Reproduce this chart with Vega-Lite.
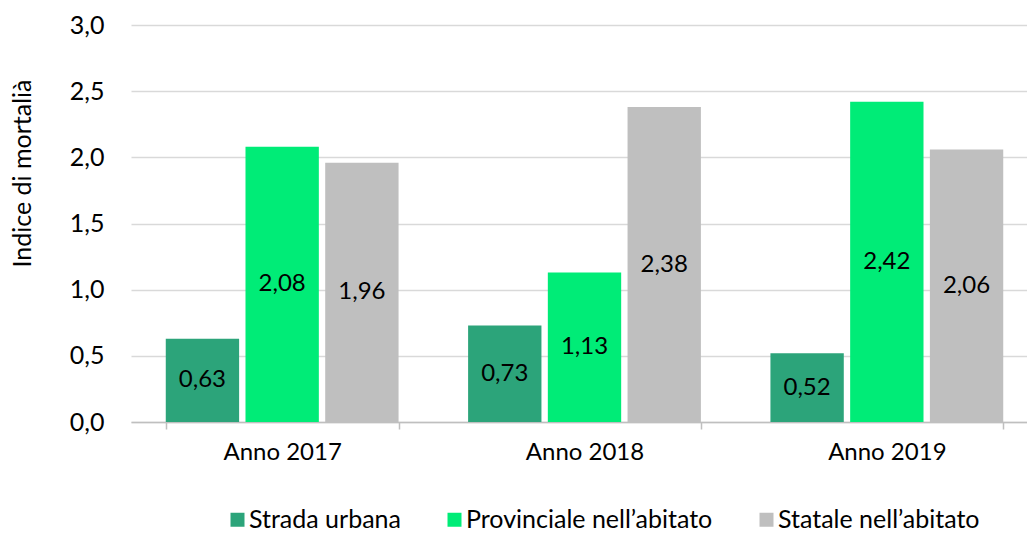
{
  "$schema": "https://vega.github.io/schema/vega-lite/v6.json",
  "width": 896,
  "height": 397,
  "autosize": {"type": "none"},
  "padding": {"left": 131, "top": 25, "right": 0, "bottom": 111},
  "config": {
    "locale": {"number": {"decimal": ",", "thousands": ".", "grouping": [3], "currency": ["", " €"]}},
    "view": {"stroke": null},
    "font": "Lato"
  },
  "data": {
    "values": [
      {"anno": "Anno 2017", "serie": "Strada urbana", "v": 0.63},
      {"anno": "Anno 2017", "serie": "Provinciale nell’abitato", "v": 2.08},
      {"anno": "Anno 2017", "serie": "Statale nell’abitato", "v": 1.96},
      {"anno": "Anno 2018", "serie": "Strada urbana", "v": 0.73},
      {"anno": "Anno 2018", "serie": "Provinciale nell’abitato", "v": 1.13},
      {"anno": "Anno 2018", "serie": "Statale nell’abitato", "v": 2.38},
      {"anno": "Anno 2019", "serie": "Strada urbana", "v": 0.52},
      {"anno": "Anno 2019", "serie": "Provinciale nell’abitato", "v": 2.42},
      {"anno": "Anno 2019", "serie": "Statale nell’abitato", "v": 2.06}
    ]
  },
  "encoding": {
    "x": {
      "field": "anno", "type": "nominal",
      "scale": {"range": [0, 907], "paddingInner": 0.23, "paddingOuter": 0.115},
      "axis": {
        "title": null, "labelAngle": 0, "tickBand": "extent", "tickSize": 7,
        "domainColor": "#bfbfbf", "tickColor": "#bfbfbf", "domainWidth": 1.5, "tickWidth": 1.5,
        "labelFontSize": 24, "labelPadding": 11, "labelColor": "#000000"
      }
    },
    "xOffset": {
      "field": "serie", "type": "nominal",
      "sort": ["Strada urbana", "Provinciale nell’abitato", "Statale nell’abitato"],
      "scale": {"paddingInner": 0.08, "paddingOuter": 0}
    }
  },
  "layer": [
    {
      "mark": {"type": "bar"},
      "encoding": {
        "y": {
          "field": "v", "type": "quantitative",
          "scale": {"domain": [0, 3]},
          "axis": {
            "title": "Indice di mortalià", "format": ".1f", "values": [0, 0.5, 1, 1.5, 2, 2.5, 3],
            "domain": false, "ticks": false, "labelPadding": 27,
            "labelFontSize": 25, "labelColor": "#000000",
            "gridColor": "#d9d9d9", "gridWidth": 1.5,
            "titleFontSize": 25, "titleFontWeight": "normal", "titleColor": "#000000",
            "titleX": -109, "titleY": 148, "titleAngle": 270, "titleAlign": "center", "titleBaseline": "middle"
          }
        },
        "color": {
          "field": "serie", "type": "nominal",
          "sort": ["Strada urbana", "Provinciale nell’abitato", "Statale nell’abitato"],
          "scale": {"range": ["#2ca47a", "#00ec77", "#bfbfbf"]},
          "legend": {
            "title": null, "orient": "none", "legendX": 94, "legendY": 482, "direction": "horizontal",
            "symbolType": "square", "symbolSize": 196, "symbolStrokeWidth": 0,
            "labelFontSize": 25, "labelColor": "#000000", "labelOffset": -1, "columnPadding": 41,
            "labelLimit": 0
          }
        }
      }
    },
    {
      "transform": [{"calculate": "datum.v / 2", "as": "mid"}],
      "mark": {"type": "text", "fontSize": 24, "color": "#000000"},
      "encoding": {
        "y": {"field": "mid", "type": "quantitative"},
        "text": {"field": "v", "type": "quantitative", "format": ".2f"}
      }
    }
  ]
}
